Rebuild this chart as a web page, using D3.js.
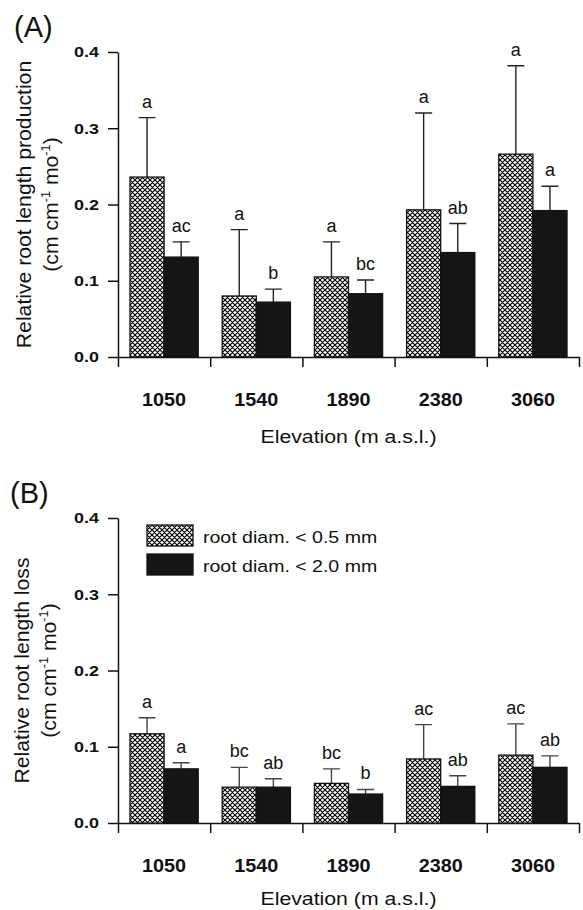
<!DOCTYPE html>
<html>
<head>
<meta charset="utf-8">
<script src="https://cdn.jsdelivr.net/npm/d3@7"></script>
<style>
body { margin: 0; background: #fff; }
text { font-family: "Liberation Sans", Arial, Helvetica, sans-serif; fill: #111; }
</style>
</head>
<body>
<div id="chart"></div>
<script>
var elevations = ["1050", "1540", "1890", "2380", "3060"];
var seriesNames = ["root diam. < 0.5 mm", "root diam. < 2.0 mm"];
var yTicks = [0, 0.1, 0.2, 0.3, 0.4];

// (A) production
var prodFine = [0.236, 0.080, 0.105, 0.193, 0.266];
var prodFineSe = [0.078, 0.087, 0.046, 0.127, 0.116];
var prodCoarse = [0.131, 0.072, 0.083, 0.137, 0.192];
var prodCoarseSe = [0.020, 0.017, 0.018, 0.038, 0.032];
var prodFineLetters = ["a", "a", "a", "a", "a"];
var prodCoarseLetters = ["ac", "b", "bc", "ab", "a"];

// (B) loss
var lossFine = [0.117, 0.047, 0.052, 0.084, 0.089];
var lossFineSe = [0.021, 0.026, 0.019, 0.045, 0.041];
var lossCoarse = [0.071, 0.047, 0.038, 0.048, 0.073];
var lossCoarseSe = [0.008, 0.011, 0.006, 0.014, 0.015];
var lossFineLetters = ["a", "bc", "bc", "ac", "ac"];
var lossCoarseLetters = ["a", "ab", "b", "ab", "ab"];

var panels = [
    {label: "(A)", labelX: 14, labelY: 37, top: 52, bottom: 357, titleOff: 86, errColor: "#222",
     title: "Relative root length production", t1: 31, t2: 58,
     fine: prodFine, fineSe: prodFineSe, coarse: prodCoarse, coarseSe: prodCoarseSe,
     fineLab: prodFineLetters, coarseLab: prodCoarseLetters, legend: false},
    {label: "(B)", labelX: 10, labelY: 503, top: 518, bottom: 823, titleOff: 82, errColor: "#444",
     title: "Relative root length loss", t1: 29, t2: 56,
     fine: lossFine, fineSe: lossFineSe, coarse: lossCoarse, coarseSe: lossCoarseSe,
     fineLab: lossFineLetters, coarseLab: lossCoarseLetters, legend: true}
];

var width = 583, height = 910;
var xLeft = 118, xRight = 579;

var svg = d3.select("#chart").append("svg")
    .attr("width", width)
    .attr("height", height);

// cross hatch for the fine roots
var pat = svg.append("defs").append("pattern")
    .attr("id", "hatch")
    .attr("patternUnits", "userSpaceOnUse")
    .attr("width", 5)
    .attr("height", 5);
pat.append("rect").attr("width", 5).attr("height", 5).attr("fill", "#fff");
pat.append("path")
    .attr("d", "M0,0L5,5M5,0L0,5M-1,1L1,-1M4,6L6,4M-1,4L1,6M4,-1L6,1")
    .attr("stroke", "#000")
    .attr("stroke-width", 1.15);

var x0 = d3.scaleBand().domain(elevations).range([xLeft, xRight]).padding(0);
var x1 = d3.scaleBand().domain([0, 1]).range([12, x0.bandwidth() - 12]);
var xb = d3.scaleLinear().domain([0, elevations.length]).range([xLeft, xRight]);

panels.forEach(function(p) {
    var y = d3.scaleLinear().domain([0, 0.4]).range([p.bottom, p.top]);
    var g = svg.append("g");

    // y axis
    var ya = g.append("g")
        .attr("transform", "translate(" + xLeft + ",0)")
        .call(d3.axisLeft(y).tickValues(yTicks).tickFormat(d3.format(".1f"))
            .tickSize(10).tickSizeOuter(0).tickPadding(6.5));
    ya.selectAll("path, line").attr("stroke", "#111").attr("stroke-width", 1.5);
    ya.selectAll("text")
        .attr("font-size", 15.5)
        .attr("font-weight", "bold")
        .attr("fill", "#111")
        .attr("transform", "scale(1.16,1)");

    // x axis, ticks sit between the groups
    var xa = g.append("g")
        .attr("transform", "translate(0," + p.bottom + ")")
        .call(d3.axisBottom(xb).tickValues(d3.range(0, elevations.length + 1))
            .tickFormat("").tickSize(10).tickSizeOuter(0));
    xa.selectAll("path, line").attr("stroke", "#111").attr("stroke-width", 1.5);

    g.selectAll(".cat")
        .data(elevations)
        .enter()
        .append("text")
        .attr("class", "cat")
        .attr("transform", function(d) {
            return "translate(" + (x0(d) + x0.bandwidth() / 2) + "," + (p.bottom + 48.5) + ") scale(1.1,1)";
        })
        .attr("text-anchor", "middle")
        .attr("font-size", 18)
        .attr("font-weight", "bold")
        .text(function(d) { return d; });

    // bars
    var rows = [];
    elevations.forEach(function(e, i) {
        rows.push({e: e, k: 0, v: p.fine[i], se: p.fineSe[i], lab: p.fineLab[i]});
        rows.push({e: e, k: 1, v: p.coarse[i], se: p.coarseSe[i], lab: p.coarseLab[i]});
    });

    var cx = function(d) { return x0(d.e) + x1(d.k) + x1.bandwidth() / 2; };

    g.selectAll(".err")
        .data(rows)
        .enter()
        .append("path")
        .attr("class", "err")
        .attr("d", function(d) {
            var c = cx(d), top = y(d.v + d.se);
            return "M" + c + "," + y(d.v) + "V" + top + "M" + (c - 8.5) + "," + top + "H" + (c + 8.5);
        })
        .attr("fill", "none")
        .attr("stroke", p.errColor)
        .attr("stroke-width", 1.4);

    g.selectAll(".bar")
        .data(rows)
        .enter()
        .append("rect")
        .attr("class", "bar")
        .attr("x", function(d) { return x0(d.e) + x1(d.k); })
        .attr("width", x1.bandwidth())
        .attr("y", function(d) { return y(d.v); })
        .attr("height", function(d) { return y(0) - y(d.v); })
        .attr("fill", function(d) { return d.k == 0 ? "url(#hatch)" : "#151515"; })
        .attr("stroke", "#111")
        .attr("stroke-width", 1.3);

    g.selectAll(".sig")
        .data(rows)
        .enter()
        .append("text")
        .attr("class", "sig")
        .attr("x", cx)
        .attr("y", function(d) { return y(d.v + d.se) - 10; })
        .attr("text-anchor", "middle")
        .attr("font-size", 18)
        .text(function(d) { return d.lab; });

    // titles
    var ym = (p.top + p.bottom) / 2;
    g.append("text")
        .attr("transform", "translate(" + p.t1 + "," + ym + ") rotate(-90) scale(1.06,1)")
        .attr("text-anchor", "middle")
        .attr("font-size", 20)
        .text(p.title);

    var t2 = g.append("text")
        .attr("transform", "translate(" + p.t2 + "," + ym + ") rotate(-90) scale(1.06,1)")
        .attr("text-anchor", "middle")
        .attr("font-size", 20);
    t2.append("tspan").text("(cm cm");
    t2.append("tspan").attr("font-size", 12).attr("dy", -8).text("-1");
    t2.append("tspan").attr("dy", 8).text(" mo");
    t2.append("tspan").attr("font-size", 12).attr("dy", -8).text("-1");
    t2.append("tspan").attr("dy", 8).text(")");

    g.append("text")
        .attr("transform", "translate(" + ((xLeft + xRight) / 2) + "," + (p.bottom + p.titleOff) + ") scale(1.15,1)")
        .attr("text-anchor", "middle")
        .attr("font-size", 18.5)
        .text("Elevation (m a.s.l.)");

    g.append("text")
        .attr("x", p.labelX)
        .attr("y", p.labelY)
        .attr("font-size", 29)
        .text(p.label);

    if (p.legend) {
        var lg = g.selectAll(".leg")
            .data(seriesNames)
            .enter()
            .append("g")
            .attr("class", "leg")
            .attr("transform", function(d, i) { return "translate(147," + (525 + i * 29) + ")"; });
        lg.append("rect")
            .attr("width", 46)
            .attr("height", 21)
            .attr("fill", function(d, i) { return i == 0 ? "url(#hatch)" : "#151515"; })
            .attr("stroke", "#111")
            .attr("stroke-width", 1.3);
        lg.append("text")
            .attr("transform", "translate(56,12) scale(1.15,1)")
            .attr("dominant-baseline", "central")
            .attr("font-size", 17)
            .text(function(d) { return d; });
    }
});
</script>
</body>
</html>
